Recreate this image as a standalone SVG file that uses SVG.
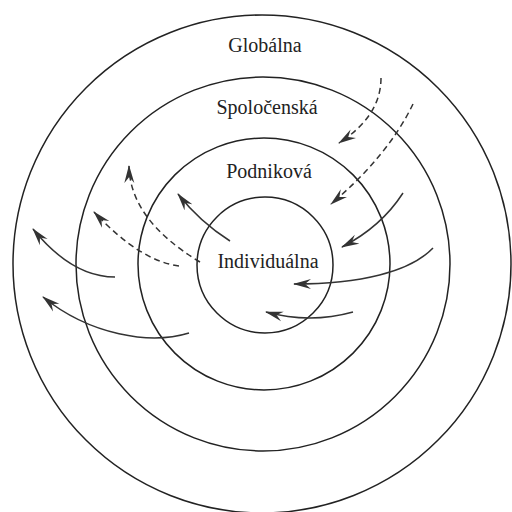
<svg xmlns="http://www.w3.org/2000/svg" width="512" height="512" viewBox="0 0 512 512">
  <style>
    .ring { fill: none; stroke: #222; stroke-width: 1.5; }
    .lbl { font-family: "Liberation Serif", "Times New Roman", serif; font-size: 20px; fill: #222; text-anchor: middle; }
    .arr { fill: none; stroke: #333; stroke-width: 1.5; marker-end: url(#head); }
    .dash { stroke-dasharray: 6 4; }
  </style>
  <defs>
    <marker id="head" viewBox="0 0 18 11" refX="17" refY="5.5" markerWidth="18" markerHeight="11" markerUnits="userSpaceOnUse" orient="auto">
      <path d="M0,0.5 L18,5.5 L0,10.5 L6,5.5 z" fill="#333"/>
    </marker>
  </defs>
  <rect width="512" height="512" fill="#fff"/>
  <g id="globalna">
    <circle class="ring" cx="262" cy="264" r="249"/>
    <text class="lbl" x="265" y="52">Globálna</text>
  </g>
  <g id="spolocenska">
    <circle class="ring" cx="263" cy="264" r="187"/>
    <text class="lbl" x="267" y="114">Spoločenská</text>
  </g>
  <g id="podnikova">
    <circle class="ring" cx="264" cy="264" r="126"/>
    <text class="lbl" x="269" y="178">Podniková</text>
  </g>
  <g id="individualna">
    <circle class="ring" cx="265" cy="265" r="68"/>
    <text class="lbl" x="268" y="268">Individuálna</text>
  </g>
  <g id="connectors">
    <path class="arr" d="M115,277 Q72,277 33,229"/>
    <path class="arr" d="M189,333 C150,345 90,335 43,297"/>
    <path class="arr" d="M230,241 Q200,222 178,194"/>
    <path class="arr dash" d="M179,266 Q140,261 94,212"/>
    <path class="arr dash" d="M200,262 Q130,220 129,166"/>
    <path class="arr dash" d="M381,78 Q381,116 339,143"/>
    <path class="arr dash" d="M413,104 Q388,156 331,204"/>
    <path class="arr" d="M403,193 Q381,227 342,247"/>
    <path class="arr" d="M433,248 C410,272 360,284 294,284"/>
    <path class="arr" d="M353,312 Q310,324 266,312"/>
  </g>
</svg>
